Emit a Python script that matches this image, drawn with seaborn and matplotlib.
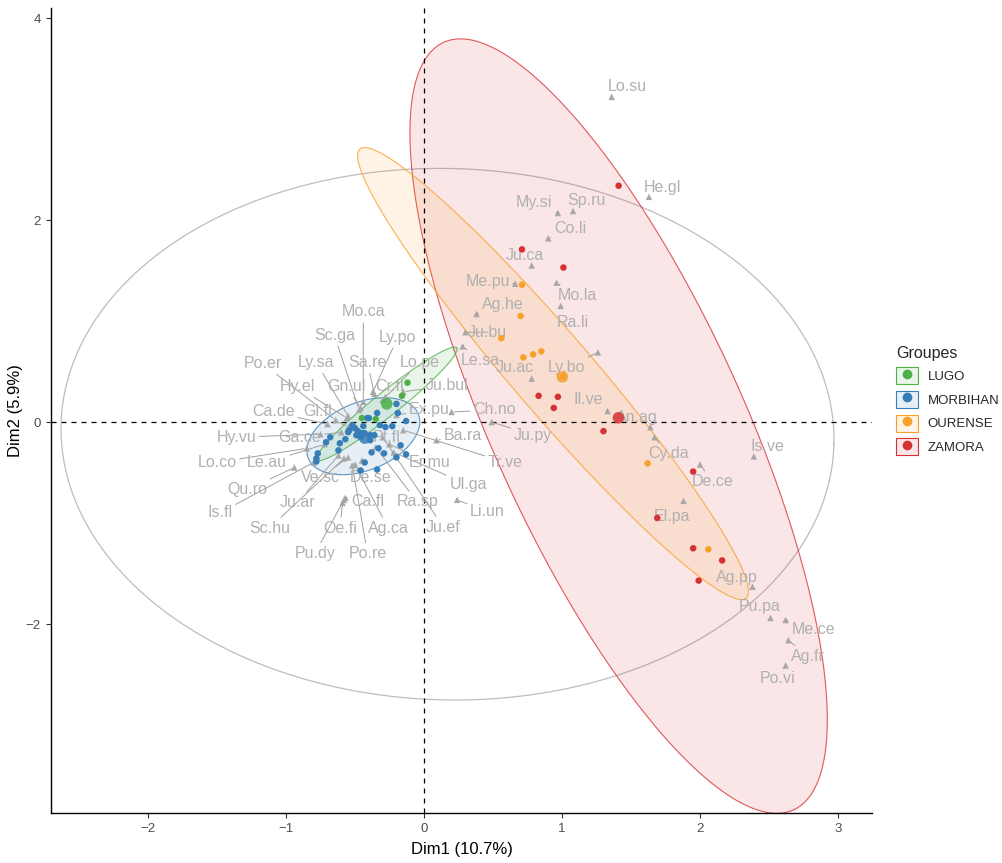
import numpy as np
import pandas as pd
import matplotlib
matplotlib.use("Agg")
import matplotlib.pyplot as plt
from matplotlib.patches import Rectangle
from matplotlib.lines import Line2D
from matplotlib.legend_handler import HandlerTuple
import seaborn as sns

# ---- individuals (PCA scores) by group ----
groups = ["LUGO", "MORBIHAN", "OURENSE", "ZAMORA"]
group_colors = ["#4DAF4A", "#377EB8", "#F7A12B", "#D63236"]

lugo_x = [-0.12, -0.16, -0.45, -0.35]
lugo_y = [0.39, 0.26, 0.04, 0.03]

morbihan_x = [-0.20, -0.34, -0.19, -0.13, -0.40, -0.32, -0.28, -0.23, -0.50, -0.48,
              -0.45, -0.49, -0.46, -0.43, -0.39, -0.36, -0.39, -0.54, -0.57, -0.61,
              -0.68, -0.71, -0.62, -0.33, -0.38, -0.29, -0.17, -0.13, -0.20, -0.77,
              -0.78, -0.78, -0.43, -0.46, -0.34, -0.41, -0.52, -0.55, -0.44]
morbihan_y = [0.18, 0.09, 0.09, 0.01, 0.04, -0.03, -0.05, -0.04, -0.06, -0.09,
              -0.11, -0.13, -0.15, -0.11, -0.13, -0.13, -0.18, -0.08, -0.17, -0.21,
              -0.15, -0.20, -0.28, -0.26, -0.30, -0.31, -0.23, -0.32, -0.35, -0.31,
              -0.36, -0.39, -0.40, -0.48, -0.47, 0.04, -0.03, -0.10, -0.04]

ourense_x = [0.71, 0.70, 0.56, 0.72, 0.79, 0.85, 1.01, 1.62, 2.06]
ourense_y = [1.36, 1.05, 0.83, 0.64, 0.67, 0.70, 0.45, -0.41, -1.26]

zamora_x = [1.41, 0.71, 1.01, 0.83, 0.97, 0.94, 1.30, 1.95, 1.69, 1.95, 2.16, 1.99]
zamora_y = [2.34, 1.71, 1.53, 0.26, 0.25, 0.14, -0.09, -0.49, -0.95, -1.25, -1.37, -1.57]

# ---- concentration ellipses: centre, two conjugate semi-axis vectors ----
ellipse_center = [(-0.27, 0.18), (-0.44, -0.14), (0.935, 0.48), (1.41, -0.04)]
ellipse_axis_u = [(0.507, 0.554), (0.399, 0.218), (1.399, -2.223), (1.268, -3.80)]
ellipse_axis_v = [(0.054, -0.093), (0.091, -0.313), (0.22, 0.258), (0.824, 0.514)]

# ellipse around the variable cloud
var_ellipse_center = (0.17, -0.12)
var_ellipse_u = (2.80, -0.10)
var_ellipse_v = (0.05, 2.63)

# ---- variables (species) ----
var_names = ["Lo.su", "He.gl", "My.si", "Sp.ru", "Co.li", "Ju.ca", "Me.pu", "Mo.la",
             "Ra.li", "Ag.he", "Ju.bu", "Ju.ac", "Ly.bo", "Il.ve", "An.ag", "Cy.da",
             "De.ce", "El.pa", "Is.ve", "Ag.pp", "Pu.pa", "Me.ce", "Ag.fr", "Po.vi",
             "Ch.no", "Ju.py", "Ba.ra", "Tr.ve", "Li.un", "Ul.ga", "Er.mu", "Ra.sp",
             "Ju.ef", "Le.sa",
             "Mo.ca", "Sc.ga", "Ly.po", "Po.er", "Ly.sa", "Sa.re", "Lo.pe", "Hy.el",
             "Gn.ul", "Cr.fl", "Ju.bul", "Ca.de", "Gl.fl", "Ex.pu", "Hy.vu", "Ga.ce",
             "Pt.fl", "Lo.co", "Le.au", "Ve.sc", "De.se", "Qu.ro", "Ju.ar", "Ca.fl",
             "Is.fl", "Sc.hu", "Oe.fi", "Ag.ca", "Pu.dy", "Po.re"]
var_x = [1.36, 1.63, 0.97, 1.08, 0.90, 0.78, 0.66, 0.96,
         0.99, 0.38, 0.30, 0.78, 1.26, 1.33, 1.64, 1.67,
         2.00, 1.88, 2.39, 2.38, 2.51, 2.62, 2.64, 2.62,
         0.20, 0.49, 0.09, -0.15, 0.24, -0.22, -0.25, -0.35,
         -0.30, 0.28,
         -0.44, -0.47, -0.37, -0.64, -0.55, -0.36, -0.30, -0.56,
         -0.46, -0.28, -0.15, -0.70, -0.55, -0.20, -0.75, -0.60,
         -0.40, -0.85, -0.72, -0.55, -0.45, -0.94, -0.62, -0.57,
         -0.80, -0.58, -0.59, -0.50, -0.58, -0.52]
var_y = [3.22, 2.23, 2.07, 2.09, 1.82, 1.55, 1.37, 1.38,
         1.15, 1.07, 0.89, 0.43, 0.69, 0.11, -0.05, -0.15,
         -0.42, -0.78, -0.34, -1.63, -1.94, -1.96, -2.16, -2.41,
         0.10, 0.00, -0.18, -0.08, -0.77, -0.30, -0.22, -0.25,
         -0.15, 0.75,
         0.20, 0.12, 0.30, 0.02, 0.06, 0.28, 0.22, 0.04,
         0.14, 0.25, 0.30, -0.02, -0.05, 0.07, -0.12, -0.10,
         -0.12, -0.26, -0.22, -0.35, -0.38, -0.45, -0.33, -0.75,
         -0.40, -0.36, -0.80, -0.42, -0.77, -0.43]
# repelled label anchors (data units)
label_x = [1.47, 1.73, 0.80, 1.18, 1.06, 0.73, 0.46, 1.11,
           1.08, 0.57, 0.46, 0.66, 1.03, 1.19, 1.54, 1.77,
           2.09, 1.80, 2.49, 2.27, 2.43, 2.82, 2.78, 2.56,
           0.51, 0.79, 0.28, 0.59, 0.46, 0.32, 0.04, -0.05,
           0.14, 0.41,
           -0.44, -0.65, -0.19, -1.17, -0.78, -0.41, -0.03, -0.92,
           -0.56, -0.25, 0.17, -1.09, -0.77, 0.04, -1.36, -0.90,
           -0.27, -1.50, -1.14, -0.75, -0.39, -1.28, -0.92, -0.41,
           -1.48, -1.12, -0.61, -0.26, -0.79, -0.41]
label_y = [3.32, 2.32, 2.17, 2.19, 1.92, 1.65, 1.39, 1.25,
           0.99, 1.16, 0.89, 0.54, 0.54, 0.22, 0.05, -0.31,
           -0.59, -0.94, -0.24, -1.54, -1.83, -2.05, -2.32, -2.54,
           0.12, -0.13, -0.13, -0.40, -0.89, -0.62, -0.40, -0.79,
           -1.04, 0.61,
           1.09, 0.86, 0.84, 0.58, 0.59, 0.59, 0.59, 0.35,
           0.35, 0.35, 0.36, 0.10, 0.10, 0.12, -0.15, -0.15,
           -0.15, -0.40, -0.40, -0.55, -0.55, -0.67, -0.80, -0.79,
           -0.90, -1.05, -1.05, -1.05, -1.30, -1.30]

axis_title_x = "Dim1 (10.7%)"
axis_title_y = "Dim2 (5.9%)"
x_ticks = [-2, -1, 0, 1, 2, 3]
y_ticks = [-2, 0, 2, 4]

# ---- assemble tables ----
ind = pd.concat([
    pd.DataFrame({"Dim1": lugo_x, "Dim2": lugo_y, "Groupes": "LUGO"}),
    pd.DataFrame({"Dim1": morbihan_x, "Dim2": morbihan_y, "Groupes": "MORBIHAN"}),
    pd.DataFrame({"Dim1": ourense_x, "Dim2": ourense_y, "Groupes": "OURENSE"}),
    pd.DataFrame({"Dim1": zamora_x, "Dim2": zamora_y, "Groupes": "ZAMORA"}),
], ignore_index=True)
means = ind.groupby("Groupes", as_index=False)[["Dim1", "Dim2"]].mean()
var = pd.DataFrame({"name": var_names, "Dim1": var_x, "Dim2": var_y,
                    "lx": label_x, "ly": label_y})
palette = dict(zip(groups, group_colors))

sns.set_theme(style="white")
plt.rcParams["font.family"] = ["Liberation Sans", "DejaVu Sans"]

fig = plt.figure(figsize=(10.03, 8.63), dpi=100)
ax = fig.add_axes([51 / 1003, 50 / 863, 821 / 1003, 805 / 863])


def ellipse_path(c, u, v, n=240):
    t = np.linspace(0, 2 * np.pi, n)
    x = c[0] + u[0] * np.cos(t) + v[0] * np.sin(t)
    y = c[1] + u[1] * np.cos(t) + v[1] * np.sin(t)
    return x, y


# variable-cloud ellipse
ex, ey = ellipse_path(var_ellipse_center, var_ellipse_u, var_ellipse_v)
ax.plot(ex, ey, color="#BDBDBD", lw=0.9, zorder=1)

# group ellipses (largest first so smaller ones sit on top)
for g in ["ZAMORA", "OURENSE", "MORBIHAN", "LUGO"]:
    i = groups.index(g)
    ex, ey = ellipse_path(ellipse_center[i], ellipse_axis_u[i], ellipse_axis_v[i])
    ax.fill(ex, ey, color=group_colors[i], alpha=0.12, lw=0, zorder=2)
    ax.plot(ex, ey, color=group_colors[i], lw=0.8, alpha=0.8, zorder=2)

ax.axhline(0, color="black", lw=0.9, ls=(0, (4, 4)), zorder=3)
ax.axvline(0, color="black", lw=0.9, ls=(0, (4, 4)), zorder=3)

# variables
sns.scatterplot(data=var, x="Dim1", y="Dim2", marker="^", color="#A8A8A8",
                s=22, edgecolor="none", ax=ax, zorder=3, legend=False)
fig.canvas.draw()
to_px = ax.transData.transform
for _, r in var.iterrows():
    p0 = to_px((r.Dim1, r.Dim2))
    p1 = to_px((r.lx, r.ly))
    far = np.hypot(*(p1 - p0)) > 20
    ax.annotate(r["name"], xy=(r.Dim1, r.Dim2), xytext=(r.lx, r.ly),
                ha="center", va="center", fontsize=11.5, color="#B0B0B0", zorder=3,
                arrowprops=dict(arrowstyle="-", color="#A0A0A0", lw=0.7,
                                shrinkA=0, shrinkB=2) if far else None)

# individuals and group means
sns.scatterplot(data=ind, x="Dim1", y="Dim2", hue="Groupes", palette=palette,
                s=22, edgecolor="none", ax=ax, zorder=4, legend=False)
sns.scatterplot(data=means, x="Dim1", y="Dim2", hue="Groupes", palette=palette,
                s=70, edgecolor="none", ax=ax, zorder=4, legend=False, alpha=0.85)

# axes styling
ax.set_xlim(-2.703, 3.246)
ax.set_ylim(-3.871, 4.10)
ax.set_xticks(x_ticks)
ax.set_yticks(y_ticks)
ax.set_xlabel(axis_title_x, fontsize=12, color="black", labelpad=5)
ax.set_ylabel(axis_title_y, fontsize=12, color="black", labelpad=2)
for s in ["top", "right"]:
    ax.spines[s].set_visible(False)
for s in ["left", "bottom"]:
    ax.spines[s].set_color("black")
    ax.spines[s].set_linewidth(1.0)
ax.tick_params(axis="both", which="both", length=3.5, width=0.8, color="#333333",
               labelsize=9.5, labelcolor="#4D4D4D", bottom=True, left=True, pad=4)
ax.grid(False)

# legend: filled key boxes with a dot on top
handles = []
for g, c in zip(groups, group_colors):
    box = Rectangle((0, 0), 1, 1, facecolor=matplotlib.colors.to_rgba(c, 0.12),
                    edgecolor=c, lw=0.8)
    dot = Line2D([], [], marker="o", ls="", color=c, markersize=6)
    handles.append((box, dot))
leg = fig.legend(handles, groups, title="Groupes", loc="upper left",
                 bbox_to_anchor=(884 / 1003, 1 - 334 / 863), frameon=False,
                 handler_map={tuple: HandlerTuple(ndivide=1, pad=0)},
                 handlelength=1.7, handleheight=1.6, handletextpad=0.7,
                 labelspacing=0.5, fontsize=9.5, title_fontsize=11.5,
                 alignment="left")

fig.savefig("out.png", dpi=100, facecolor="white")
